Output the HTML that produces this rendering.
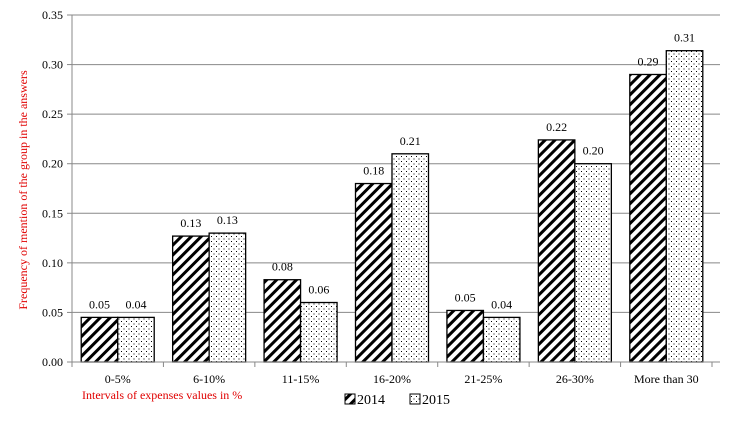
<!DOCTYPE html>
<html><head><meta charset="utf-8"><style>
body{margin:0;background:#fff;}
svg text{font-family:"Liberation Serif",serif;}
</style></head><body>
<svg width="755" height="427" xmlns="http://www.w3.org/2000/svg">
<defs>
<pattern id="hatch" patternUnits="userSpaceOnUse" width="7" height="7" patternTransform="rotate(45)">
<rect width="7" height="7" fill="#fff"/><rect x="0" y="0" width="3" height="7" fill="#000"/>
</pattern>
<pattern id="dots" patternUnits="userSpaceOnUse" width="5" height="5">
<rect width="5" height="5" fill="#fff"/><rect x="1" y="1" width="1" height="1" fill="#000"/><rect x="3.5" y="3.5" width="1" height="1" fill="#000"/>
</pattern>
</defs>
<g id="grid"></g><g id="bars"></g><g id="axes"></g>
<text x="27" y="190" transform="rotate(-90 27 190)" text-anchor="middle" font-size="12" fill="#e00000">Frequency of mention of the group in the answers</text>
<text x="82" y="399" font-size="12" fill="#e00000">Intervals of expenses values in %</text>
<g>
<rect x="345" y="394" width="10" height="10" fill="url(#hatch)" stroke="#000"/>
<text x="357" y="404" font-size="14">2014</text>
<rect x="410" y="394" width="10" height="10" fill="url(#dots)" stroke="#000"/>
<text x="422" y="404" font-size="14">2015</text>
</g>
</svg>
<script>
const categories=["0-5%","6-10%","11-15%","16-20%","21-25%","26-30%","More than 30"];
const values2014=[0.045,0.127,0.083,0.180,0.052,0.224,0.290];
const values2015=[0.045,0.130,0.060,0.210,0.045,0.200,0.314];
const labels2014=["0.05","0.13","0.08","0.18","0.05","0.22","0.29"];
const labels2015=["0.04","0.13","0.06","0.21","0.04","0.20","0.31"];
const yTicks=[0,0.05,0.10,0.15,0.20,0.25,0.30,0.35];
const NS="http://www.w3.org/2000/svg";
const L=72,R=712,T=15,B=362,YMAX=0.35;
const y=v=>B-(v/YMAX)*(B-T);
const cw=(R-L)/categories.length;
const x=i=>L+i*cw;
function mk(tag,at,parent){const e=document.createElementNS(NS,tag);for(const k in at)e.setAttribute(k,at[k]);parent.appendChild(e);return e;}
const grid=document.getElementById('grid'),bars=document.getElementById('bars'),axes=document.getElementById('axes');
yTicks.forEach((t,i)=>{
 const g=mk('line',{x1:L,x2:720,y1:y(t),y2:y(t),stroke:'#888','stroke-width':1},grid);
 
 
 const tk=mk('line',{x1:L-5,x2:L,y1:y(t),y2:y(t),stroke:'#888'},axes);
 
 
 const tx=mk('text',{x:L-9,y:y(t)+4,'text-anchor':'end','font-size':12},axes);
 tx.textContent=t.toFixed(2);
 
 
});
const yl=mk('line',{x1:L,x2:L,y1:T,y2:B,stroke:'#888'},axes);


const bw=36.5;
categories.forEach((c,i)=>{
 const cx=x(i)+cw/2;
 const b1=mk('rect',{x:cx-bw,y:y(values2014[i]),width:bw,height:B-y(values2014[i]),fill:'url(#hatch)',stroke:'#000','stroke-width':1.3},bars);
 
 
 const b2=mk('rect',{x:cx,y:y(values2015[i]),width:bw,height:B-y(values2015[i]),fill:'url(#dots)',stroke:'#000','stroke-width':1.3},bars);
 
 
 const l1=mk('text',{x:cx-bw/2,y:y(values2014[i])-9,'text-anchor':'middle','font-size':12},bars);
 l1.textContent=labels2014[i];
 
 
 const l2=mk('text',{x:cx+bw/2,y:y(values2015[i])-9,'text-anchor':'middle','font-size':12},bars);
 l2.textContent=labels2015[i];
 
 
 const ct=mk('text',{x:cx,y:383,'text-anchor':'middle','font-size':12},axes);
 ct.textContent=c;
 
 
});
for(let i=0;i<=categories.length;i++){
 const tk=mk('line',{x1:x(i),x2:x(i),y1:B,y2:B+5,stroke:'#888'},axes);
 
 
}
const xl=mk('line',{x1:L,x2:R,y1:B,y2:B,stroke:'#888'},axes);


</script>
</body></html>
